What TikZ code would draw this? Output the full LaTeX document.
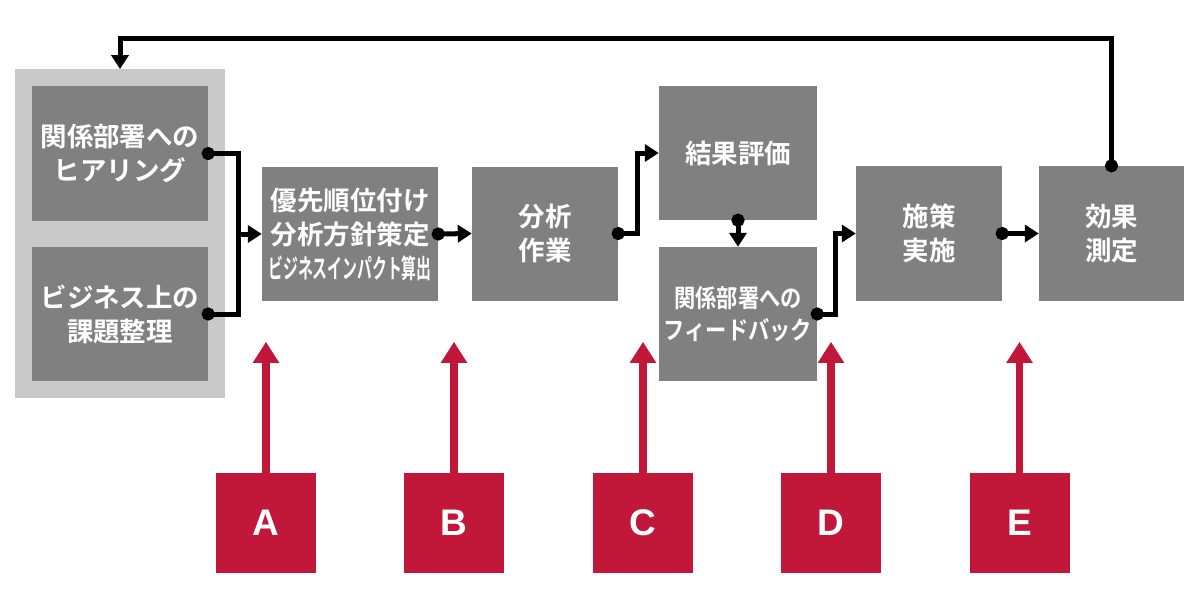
\documentclass[tikz,border=0pt]{standalone}
\usepackage{fontspec}
\usepackage{graphicx}
\usepackage{xcolor}
\newfontfamily\jpbold{Noto Sans CJK JP Bold}
\newfontfamily\labelfont{Liberation Sans}
\usetikzlibrary{
    arrows.meta,
    positioning,
    fit,
    backgrounds
}
\definecolor{boxgray}{HTML}{808080}
\definecolor{groupgray}{HTML}{C9C9C9}
\definecolor{markred}{HTML}{C1183A}
\newcommand{\narrowtext}[2]{\scalebox{#1}[1]{#2}}

\begin{document}
\begin{tikzpicture}[
        x=1pt, y=-1pt,
        proc/.style={rectangle, fill=boxgray, text=white, inner sep=0pt, align=center, minimum height=134pt, font=\jpbold\fontsize{26.5}{34}\selectfont},
        group/.style={rectangle, fill=groupgray, inner sep=16.5pt},
        marker/.style={rectangle, fill=markred, text=white, inner sep=0pt, minimum size=100pt, font=\labelfont\bfseries\fontsize{37}{37}\selectfont},
        link/.style={line width=5pt, {Circle[length=13pt]}-, shorten <=-6.5pt},
        arrow/.style={line width=5pt, {Circle[length=13pt]}-{Triangle[length=14pt,width=17pt]}, shorten <=-6.5pt},
        feed/.style={line width=5pt, -{Triangle[length=14pt,width=17pt]}},
        redarrow/.style={markred, line width=7.5pt, -{Triangle[length=21pt,width=25pt]}}
    ]
        \useasboundingbox (0,0) rectangle (1200,600);

        \node[proc, minimum width=176pt, minimum height=135pt] (hear) at (120,153.5) {関係部署への\\ヒアリング};
        \node[proc, minimum width=176pt] (issue) at (120,314) {ビジネス上の\\課題整理};
        \begin{scope}[on background layer]
            \node[group, fit=(hear)(issue)] (grp) {};
        \end{scope}

        \node[proc, minimum width=176pt] (prio) at (350,234) {優先順位付け\\分析方針策定\\\narrowtext{0.56}{ビジネスインパクト算出}};
        \node[proc, minimum width=146pt] (ana) at (545,233.5) {分析\\作業};

        \node[proc, minimum width=158pt] (eval) at (738,153) {結果評価};
        \node[proc, minimum width=158pt, font=\jpbold\fontsize{25}{32}\selectfont] (fb) at (738,314) {\narrowtext{0.85}{関係部署への}\\\narrowtext{0.85}{フィードバック}};

        \node[proc, minimum width=146pt, minimum height=135pt] (impl) at (929,233.5) {施策\\実施};
        \node[proc, minimum width=145pt, minimum height=135pt] (meas) at (1111.5,233.5) {効果\\測定};

        \node[marker] (mA) at (266,523) {A};
        \node[marker] (mB) at (454,523) {B};
        \node[marker] (mC) at (643,523) {C};
        \node[marker] (mD) at (831,523) {D};
        \node[marker] (mE) at (1019.5,523) {E};

        \coordinate (merge) at (238,234);
        \draw[link] (hear.east) -| (merge);
        \draw[link] (issue.east) -| (merge);
        \draw[feed] (merge) -- (prio.west);
        \draw[arrow] (prio.east) -- (ana.west);
        \draw[arrow] (ana.east) -- ++(19,0) |- (eval.west);
        \draw[arrow] (eval.south) -- (fb.north);
        \draw[arrow] (fb.east) -- ++(18,0) |- (impl.west);
        \draw[arrow] (impl.east) -- (meas.west);
        \draw[arrow] (meas.north) -- ++(0,-127) -| (grp.north);

        \draw[redarrow] (mA.north) -- ++(0,-131);
        \draw[redarrow] (mB.north) -- ++(0,-131);
        \draw[redarrow] (mC.north) -- ++(0,-131);
        \draw[redarrow] (mD.north) -- ++(0,-131);
        \draw[redarrow] (mE.north) -- ++(0,-131);
    \end{tikzpicture}
\end{document}
